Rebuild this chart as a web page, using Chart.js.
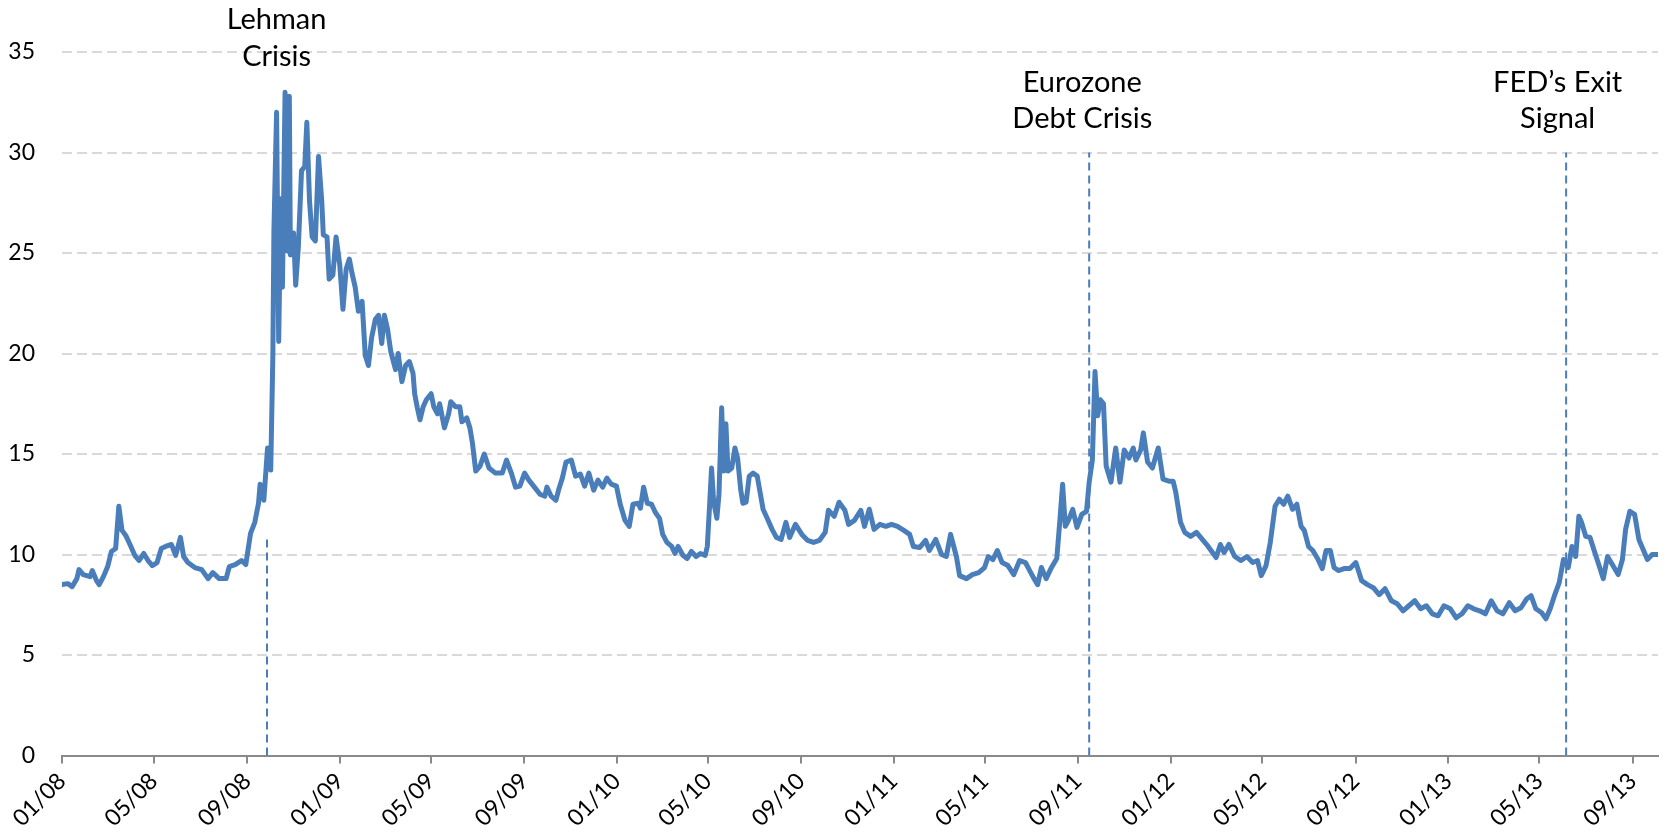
<!DOCTYPE html>
<html>
<head>
<meta charset="utf-8">
<script src="https://cdn.jsdelivr.net/npm/chart.js@4.4.1/dist/chart.umd.min.js"></script>
<style>
  html, body { margin: 0; padding: 0; background: #fff; }
  #wrap { width: 1665px; height: 838px; position: relative; }
</style>
</head>
<body>
<div id="wrap"><canvas id="myChart"></canvas></div>
<script>
// x values are weeks counted from 1 Jan 2008
const weeks2008to2010 = [0, 1.1, 1.9, 2.8, 3.2, 4.0, 5.3, 5.7, 6.5, 7.0,
  7.8, 8.6, 9.3, 10.1, 10.7, 11.3, 12.0, 12.8, 13.7, 14.5,
  15.4, 16.2, 17.0, 17.9, 18.7, 19.5, 20.6, 21.4, 22.3, 22.9,
  23.7, 25.0, 26.3, 27.5, 28.4, 29.6, 30.9, 31.5, 32.6, 33.8,
  34.6, 35.5, 36.3, 37.0, 37.3, 38.0, 38.7, 39.3, 39.7, 39.9,
  40.4, 40.8, 41.2, 41.5, 42.0, 42.4, 42.8, 43.0, 43.6, 44.0,
  44.5, 45.1, 45.7, 46.1, 46.6, 47.1, 47.7, 48.3, 48.9, 49.2,
  49.9, 50.3, 51.0, 51.6, 52.3, 52.9, 53.5, 54.1, 54.6, 55.2,
  55.8, 56.5, 57.1, 57.7, 58.3, 59.0, 59.6, 60.2, 60.7, 61.3,
  61.9, 62.8, 63.3, 64.0, 64.7, 65.4, 66.1, 66.4, 66.9, 67.4,
  68.0, 68.6, 69.5, 70.0, 70.7, 71.1, 72.0, 72.8, 73.2, 74.1,
  74.9, 75.3, 76.2, 76.8, 77.3, 77.9, 78.7, 79.5, 80.4, 81.6,
  82.9, 83.7, 84.6, 85.4, 86.2, 87.1, 87.9, 88.8, 90.0, 90.9,
  91.3, 92.1, 93.0, 93.6, 94.2, 94.9, 95.9, 96.7, 97.6, 98.4,
  99.2, 100.1, 100.9, 101.8, 102.6, 103.4, 104.4, 105.1, 106.0, 106.8,
  107.5, 108.5, 108.9, 109.5, 110.2, 111.0, 111.7, 112.5, 113.1, 113.9,
  114.8, 115.4, 116.0, 116.9, 117.7, 118.5, 119.4, 120.2, 121.1, 121.5,
  121.9, 122.3, 122.7, 123.3, 123.7, 124.2, 124.6, 125.0, 125.4, 126.1,
  126.7, 127.2, 127.8, 128.2, 128.8, 129.4, 130.1];
const values2008to2010 = [8.5, 8.55, 8.4, 8.8, 9.25, 9.0, 8.9, 9.2, 8.7, 8.5,
  8.9, 9.4, 10.15, 10.3, 12.4, 11.2, 10.95, 10.5, 9.96, 9.7,
  10.05, 9.7, 9.45, 9.6, 10.3, 10.4, 10.5, 9.96, 10.85, 9.9,
  9.6, 9.35, 9.25, 8.8, 9.1, 8.8, 8.8, 9.4, 9.5, 9.7,
  9.5, 11.05, 11.6, 12.55, 13.5, 12.7, 15.3, 14.2, 19.9, 26.1,
  32.0, 20.6, 27.7, 23.3, 33.0, 25.1, 32.8, 24.9, 26.0, 23.4,
  25.3, 29.1, 29.3, 31.5, 27.6, 25.8, 25.6, 29.8, 27.6, 25.9,
  25.8, 23.7, 23.9, 25.8, 24.4, 22.2, 24.2, 24.7, 24.0, 23.3,
  22.1, 22.6, 19.9, 19.4, 20.8, 21.7, 21.9, 20.5, 21.9, 21.2,
  20.1, 19.2, 20.0, 18.6, 19.4, 19.6, 19.0, 18.0, 17.3, 16.7,
  17.35, 17.7, 18.0, 17.35, 17.0, 17.5, 16.3, 17.0, 17.6, 17.35,
  17.35, 16.6, 16.8, 16.3, 15.5, 14.15, 14.4, 15.0, 14.3, 14.05,
  14.05, 14.7, 14.05, 13.35, 13.4, 14.05, 13.7, 13.4, 13.0, 12.9,
  13.35, 12.9, 12.7, 13.3, 13.8, 14.6, 14.7, 13.9, 14.0, 13.4,
  14.05, 13.2, 13.7, 13.35, 13.8, 13.5, 13.4, 12.5, 11.7, 11.4,
  12.5, 12.55, 12.3, 13.35, 12.55, 12.5, 12.1, 11.8, 11.0, 10.6,
  10.4, 10.05, 10.4, 9.96, 9.8, 10.15, 9.9, 10.05, 9.96, 10.4,
  12.3, 14.3, 12.6, 11.8, 13.0, 17.3, 14.15, 16.5, 14.15, 14.3,
  15.3, 14.8, 13.2, 12.55, 12.6, 13.9, 14.05];

const weeks2010to2013 = [130.9, 132.0, 132.6, 133.7, 134.5, 135.4, 136.3, 137.0, 138.1, 139.3,
  140.4, 141.5, 142.6, 143.7, 144.3, 145.4, 146.3, 147.4, 148.1, 149.2,
  150.4, 151.1, 152.0, 152.9, 154.0, 155.1, 156.2, 157.3, 158.5, 159.6,
  160.3, 161.5, 162.6, 163.3, 164.5, 165.6, 166.5, 167.3, 168.4, 169.0,
  170.3, 171.4, 172.6, 173.7, 174.4, 175.3, 176.1, 177.0, 178.1, 179.2,
  180.3, 181.4, 182.0, 182.9, 183.7, 184.4, 185.3, 186.2, 187.3, 187.9,
  188.4, 188.9, 189.5, 190.3, 191.1, 192.0, 192.9, 193.4, 194.0, 194.5,
  195.0, 195.5, 196.1, 196.6, 197.5, 198.4, 199.2, 200.0, 200.9, 201.7,
  202.2, 203.1, 203.6, 204.4, 205.3, 206.4, 207.3, 208.4, 209.2, 209.7,
  210.6, 211.4, 212.5, 213.6, 214.7, 215.8, 217.3, 218.1, 218.8, 219.7,
  220.8, 222.0, 223.1, 224.2, 225.1, 225.8, 226.7, 227.5, 228.4, 229.2,
  230.0, 230.8, 231.7, 232.5, 233.3, 233.9, 234.7, 235.5, 236.4, 237.3,
  238.0, 238.8, 239.5, 240.3, 241.4, 242.5, 243.6, 244.7, 245.8, 246.9,
  248.0, 249.1, 250.3, 251.4, 252.5, 253.6, 254.7, 255.8, 256.9, 258.0,
  259.1, 260.2, 261.4, 262.5, 263.6, 264.7, 265.8, 266.9, 268.0, 269.1,
  270.2, 271.3, 272.5, 273.6, 274.7, 275.8, 276.6, 277.5, 278.6, 279.4,
  280.2, 281.0, 281.9, 282.7, 283.6, 284.3, 285.0, 285.6, 286.1, 286.9,
  287.7, 288.6, 289.4, 290.2, 291.0, 291.9, 293.0, 293.8, 294.4, 295.2,
  296.1, 296.9, 297.7, 298.5, 299.4, 300.5];
const values2010to2013 = [13.9, 12.25, 11.9, 11.25, 10.85, 10.75, 11.6, 10.85, 11.5, 11.0,
  10.7, 10.6, 10.7, 11.1, 12.2, 11.9, 12.6, 12.2, 11.5, 11.7,
  12.2, 11.4, 12.25, 11.25, 11.5, 11.4, 11.5, 11.4, 11.2, 11.0,
  10.4, 10.35, 10.7, 10.2, 10.75, 10.0, 9.9, 11.0, 9.9, 8.95,
  8.8, 9.0, 9.1, 9.35, 9.9, 9.75, 10.2, 9.6, 9.45, 9.0,
  9.7, 9.6, 9.3, 8.85, 8.5, 9.35, 8.8, 9.3, 9.8, 11.75,
  13.5, 11.4, 11.7, 12.25, 11.35, 12.0, 12.15, 13.6, 14.7, 19.1,
  16.9, 17.7, 17.5, 14.4, 13.6, 15.3, 13.6, 15.2, 14.8, 15.3,
  14.7, 15.2, 16.05, 14.6, 14.3, 15.3, 13.75, 13.65, 13.65, 13.1,
  11.6, 11.1, 10.9, 11.1, 10.75, 10.4, 9.85, 10.5, 10.1, 10.5,
  9.9, 9.7, 9.9, 9.6, 9.7, 8.95, 9.45, 10.6, 12.4, 12.75,
  12.5, 12.9, 12.25, 12.5, 11.4, 11.2, 10.4, 10.2, 9.8, 9.3,
  10.2, 10.2, 9.35, 9.2, 9.3, 9.3, 9.6, 8.7, 8.5, 8.35,
  8.0, 8.3, 7.7, 7.55, 7.2, 7.45, 7.7, 7.3, 7.45, 7.05,
  6.95, 7.45, 7.3, 6.85, 7.05, 7.45, 7.3, 7.2, 7.05, 7.7,
  7.2, 7.05, 7.6, 7.2, 7.35, 7.8, 7.95, 7.3, 7.1, 6.8,
  7.3, 7.95, 8.6, 9.75, 9.35, 10.4, 9.9, 11.9, 11.6, 10.9,
  10.85, 10.1, 9.45, 8.8, 9.9, 9.5, 9.0, 9.75, 11.25, 12.15,
  12.0, 10.75, 10.25, 9.75, 10.0, 10.0];

const tickLabels = ['01/08', '05/08', '09/08', '01/09', '05/09', '09/09', '01/10', '05/10', '09/10',
  '01/11', '05/11', '09/11', '01/12', '05/12', '09/12', '01/13', '05/13', '09/13'];
const yTicks = [0, 5, 10, 15, 20, 25, 30, 35];

// eventos marcados com linha tracejada
const eventNames = [['Lehman', 'Crisis'], ['Eurozone', 'Debt Crisis'], ['FED\u2019s Exit', 'Signal']];
const eventWeeks = [38.6, 193.4, 283.2];
const eventLineTops = [11, 30, 30];
const eventLabelWeeks = [40.4, 192.1, 281.6];
const eventLabelLevels = [[36.6, 34.75], [33.5, 31.7], [33.5, 31.7]];

const lastWeek = 300.5;
const blue = '#4a7ebb';

// posição dos ticks (semanas desde 01/01/2008) a partir dos rótulos
function labelToWeek(label) {
    const month = parseInt(label.slice(0, 2), 10) - 1;
    const year = 2000 + parseInt(label.slice(3), 10);
    return (Date.UTC(year, month, 1) - Date.UTC(2008, 0, 1)) / 86400000 / 7;
}
const tickWeeks = tickLabels.map(labelToWeek);

const points = weeks2008to2010.map((w, i) => ({ x: w, y: values2008to2010[i] }))
    .concat(weeks2010to2013.map((w, i) => ({ x: w, y: values2010to2013[i] })));

const eventDatasets = eventWeeks.map((w, i) => ({
    data: [{ x: w, y: 0 }, { x: w, y: eventLineTops[i] }],
    borderColor: blue,
    borderWidth: 2,
    borderDash: [8, 5],
    pointRadius: 0,
    fill: false
}));

const eventLabelPlugin = {
    id: 'eventLabels',
    afterDatasetsDraw(chart) {
        const { ctx, scales: { x, y } } = chart;
        ctx.save();
        ctx.font = '29px Lato';
        ctx.fillStyle = '#000';
        ctx.textAlign = 'center';
        ctx.textBaseline = 'middle';
        eventNames.forEach((lines, i) => {
            lines.forEach((txt, j) => {
                ctx.fillText(txt, x.getPixelForValue(eventLabelWeeks[i]), y.getPixelForValue(eventLabelLevels[i][j]));
            });
        });
        ctx.restore();
    }
};

const ctx = document.getElementById('myChart').getContext('2d');
const myChart = new Chart(ctx, {
    type: 'line',
    data: {
        datasets: [{
            data: points,
            borderColor: blue,
            borderWidth: 5,
            borderJoinStyle: 'round',
            borderCapStyle: 'round',
            pointRadius: 0,
            tension: 0,
            fill: false
        }].concat(eventDatasets)
    },
    options: {
        responsive: true,
        maintainAspectRatio: false,
        animation: false,
        devicePixelRatio: 1,
        layout: { padding: { top: 52, right: 7, left: 0, bottom: 0 } },
        plugins: { legend: { display: false }, tooltip: { enabled: false } },
        scales: {
            x: {
                type: 'linear',
                min: 0,
                max: lastWeek,
                afterBuildTicks: scale => { scale.ticks = tickWeeks.map(v => ({ value: v })); },
                afterFit: scale => { scale.height = 82.5; },
                ticks: {
                    autoSkip: false,
                    minRotation: 45,
                    maxRotation: 45,
                    padding: 4,
                    color: '#000',
                    font: { family: 'Lato', size: 23 },
                    callback: (value, index) => tickLabels[index]
                },
                grid: {
                    drawOnChartArea: false,
                    drawTicks: true,
                    tickLength: 8,
                    color: '#898989',
                    lineWidth: 2
                },
                border: { display: true, color: '#898989', width: 2 }
            },
            y: {
                min: 0,
                max: 35,
                afterBuildTicks: scale => { scale.ticks = yTicks.map(v => ({ value: v })); },
                afterFit: scale => { scale.width = 62; },
                ticks: {
                    padding: 27,
                    color: '#000',
                    font: { family: 'Lato', size: 23 }
                },
                grid: {
                    drawTicks: false,
                    color: c => (c.tick && c.tick.value === 0) ? 'rgba(0,0,0,0)' : '#d9d9d9',
                    lineWidth: 2
                },
                border: { display: false, dash: [10, 5] }
            }
        }
    },
    plugins: [eventLabelPlugin]
});
</script>
</body>
</html>
